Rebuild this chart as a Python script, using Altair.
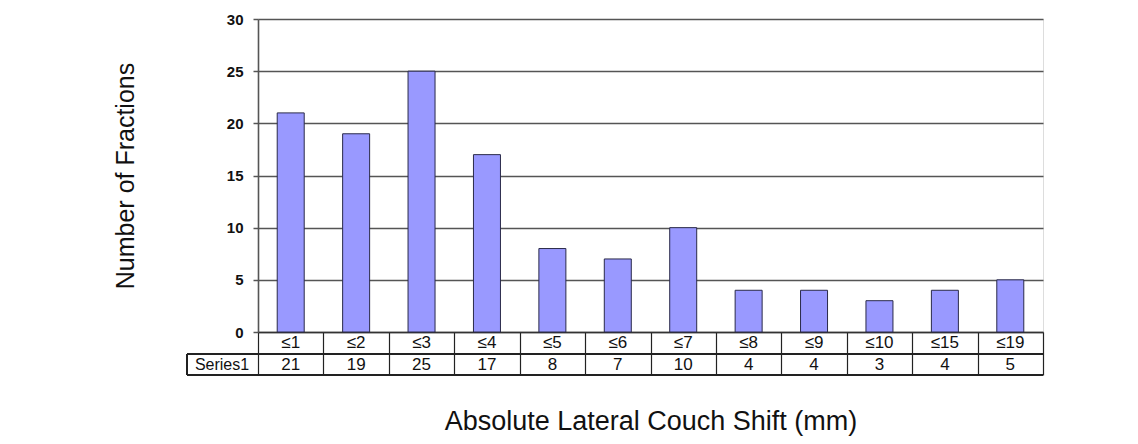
import altair as alt
import pandas as pd

categories = ["≤1", "≤2", "≤3", "≤4", "≤5", "≤6", "≤7", "≤8", "≤9", "≤10", "≤15", "≤19"]
values = [21, 19, 25, 17, 8, 7, 10, 4, 4, 3, 4, 5]
y_ticks = [0, 5, 10, 15, 20, 25, 30]
series_name = "Series1"

df = pd.DataFrame({"cat": categories, "val": values})

W, H = 785, 313
FONT = "Liberation Sans, Arial, sans-serif"

x_enc = alt.X("cat:N", sort=None, scale=alt.Scale(paddingInner=0, paddingOuter=0),
              axis=alt.Axis(title="Absolute Lateral Couch Shift (mm)", labels=False,
                            tickBand="extent", tickSize=43, tickColor="#222", tickWidth=1.2,
                            domainColor="#333", domainWidth=1.4,
                            titleFont=FONT, titleFontSize=27, titleFontWeight="normal",
                            titleColor="#111", titleY=97, titleBaseline="alphabetic"))

base = alt.Chart(df)

bars = base.mark_bar(size=27, color="#9999FF", stroke="#2a2a4a", strokeWidth=1).encode(
    x=x_enc,
    y=alt.Y("val:Q", scale=alt.Scale(domain=[0, 30], nice=False),
            axis=alt.Axis(title="Number of Fractions", values=y_ticks,
                          grid=True, gridColor="#555", gridWidth=1.6,
                          domainColor="#555", domainWidth=1.6,
                          tickSize=5, tickColor="#555", tickWidth=1.5,
                          labelFont=FONT, labelFontSize=15, labelColor="#111",
                          labelFontWeight="bold", labelPadding=10,
                          titleFont=FONT, titleFontSize=25, titleFontWeight="normal",
                          titleColor="#111", titleX=-133, titleY=H / 2,
                          titleAngle=-90, titleAlign="center", titleBaseline="middle")),
)

cat_text = base.mark_text(font=FONT, fontSize=17, color="#111").encode(
    x=alt.X("cat:N", sort=None), y=alt.value(324), text="cat:N")
val_text = base.mark_text(font=FONT, fontSize=17, color="#111").encode(
    x=alt.X("cat:N", sort=None), y=alt.value(346), text="val:Q")

hline1 = alt.Chart(df).mark_rule(color="#222", strokeWidth=1.2).encode(
    x=alt.value(-71), x2=alt.value(W), y=alt.value(335))
hline2 = alt.Chart(df).mark_rule(color="#222", strokeWidth=1.2).encode(
    x=alt.value(-71), x2=alt.value(W), y=alt.value(356))
vline = alt.Chart(df).mark_rule(color="#222", strokeWidth=1.2).encode(
    x=alt.value(-71), y=alt.value(335), y2=alt.value(356))
series_lbl = alt.Chart(pd.DataFrame({"s": [series_name]})).mark_text(
    font=FONT, fontSize=16, color="#111").encode(
    x=alt.value(-36), y=alt.value(346), text="s:N")

chart = alt.layer(bars, cat_text, val_text, hline1, hline2, vline, series_lbl).properties(
    width=W, height=H,
    autosize=alt.AutoSizeParams(type="none"),
    padding={"left": 250, "top": 11, "right": 87, "bottom": 104},
).configure_view(stroke=None).configure(background="white")

chart.save("out.html", embed_options={"renderer": "svg", "actions": False})
